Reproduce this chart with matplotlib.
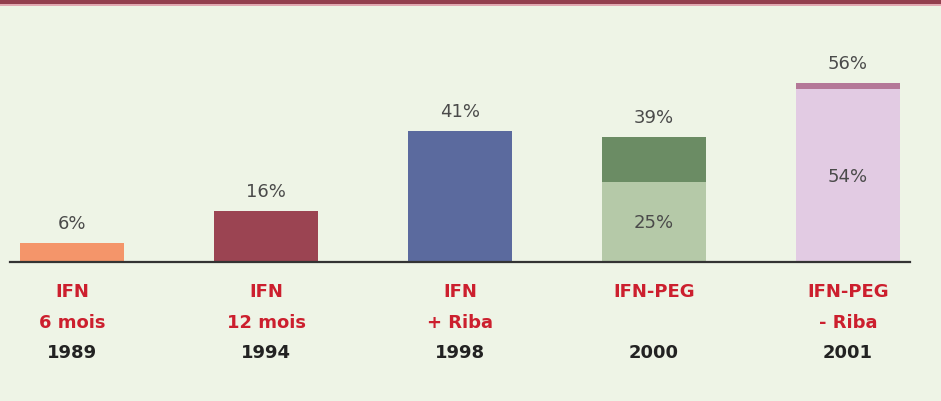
import matplotlib
matplotlib.use("Agg")
import matplotlib.pyplot as plt
from matplotlib.patches import Rectangle

# ---- data ----
treatments = ["IFN", "IFN", "IFN", "IFN-PEG", "IFN-PEG"]
details = ["6 mois", "12 mois", "+ Riba", "", "- Riba"]
years = ["1989", "1994", "1998", "2000", "2001"]
base_values = [6, 16, 41, 25, 54]      # lower (or only) segment, %
total_values = [6, 16, 41, 39, 56]     # total bar height, %
base_labels = ["", "", "", "25%", "54%"]
total_labels = ["6%", "16%", "41%", "39%", "56%"]

base_colors = ["#f4956a", "#9b4452", "#5b6a9e", "#b5c9a8", "#e2cbe3"]
top_colors = ["#f4956a", "#9b4452", "#5b6a9e", "#6b8c64", "#b47898"]

BG = "#eef4e6"
RED = "#cc1f2e"
DARK = "#222222"
GRAY = "#4a4a4a"

fig = plt.figure(figsize=(9.41, 4.02), dpi=100)
fig.patch.set_facecolor(BG)

# top band
fig.patches.append(Rectangle((0, 1 - 5 / 402), 1, 5 / 402, transform=fig.transFigure,
                             facecolor="#933f4e", edgecolor="none", zorder=0))
fig.patches.append(Rectangle((0, 1 - 7 / 402), 1, 2 / 402, transform=fig.transFigure,
                             facecolor="#e2a9b2", edgecolor="none", zorder=0))

ax = fig.add_axes([10 / 941, 139 / 402, 900 / 941, 233 / 402])
ax.set_facecolor(BG)
ax.patch.set_alpha(0)

x = list(range(len(years)))
width = 0.536
upper = [t - b for t, b in zip(total_values, base_values)]
ax.bar(x, base_values, width=width, color=base_colors, edgecolor="none", zorder=2)
ax.bar(x, upper, bottom=base_values, width=width, color=top_colors, edgecolor="none", zorder=2)

ax.set_xlim(-0.32, 4.32)
ax.set_ylim(0, 72.8)
for s in ["top", "right", "left"]:
    ax.spines[s].set_visible(False)
ax.spines["bottom"].set_color("#333333")
ax.spines["bottom"].set_linewidth(1.6)
ax.spines["bottom"].set_zorder(3)
ax.set_yticks([])
ax.set_xticks([])

for xi, tot, lab in zip(x, total_values, total_labels):
    ax.annotate(lab, (xi, tot), xytext=(0, 14.5), textcoords="offset points",
                ha="center", va="center", fontsize=13, color=GRAY)
for xi, b, lab in zip(x, base_values, base_labels):
    if lab:
        ax.text(xi, b / 2, lab, ha="center", va="center", fontsize=13, color=GRAY, zorder=4)

for xi, t, d, yr in zip(x, treatments, details, years):
    ax.annotate(t, (xi, 0), xytext=(0, -21), textcoords="offset points",
                ha="center", va="center", fontsize=13, fontweight="bold", color=RED)
    if d:
        ax.annotate(d, (xi, 0), xytext=(0, -43), textcoords="offset points",
                    ha="center", va="center", fontsize=13, fontweight="bold", color=RED)
    ax.annotate(yr, (xi, 0), xytext=(0, -64.5), textcoords="offset points",
                ha="center", va="center", fontsize=13, fontweight="bold", color=DARK)

fig.savefig("out.png", dpi=100, facecolor=BG)
